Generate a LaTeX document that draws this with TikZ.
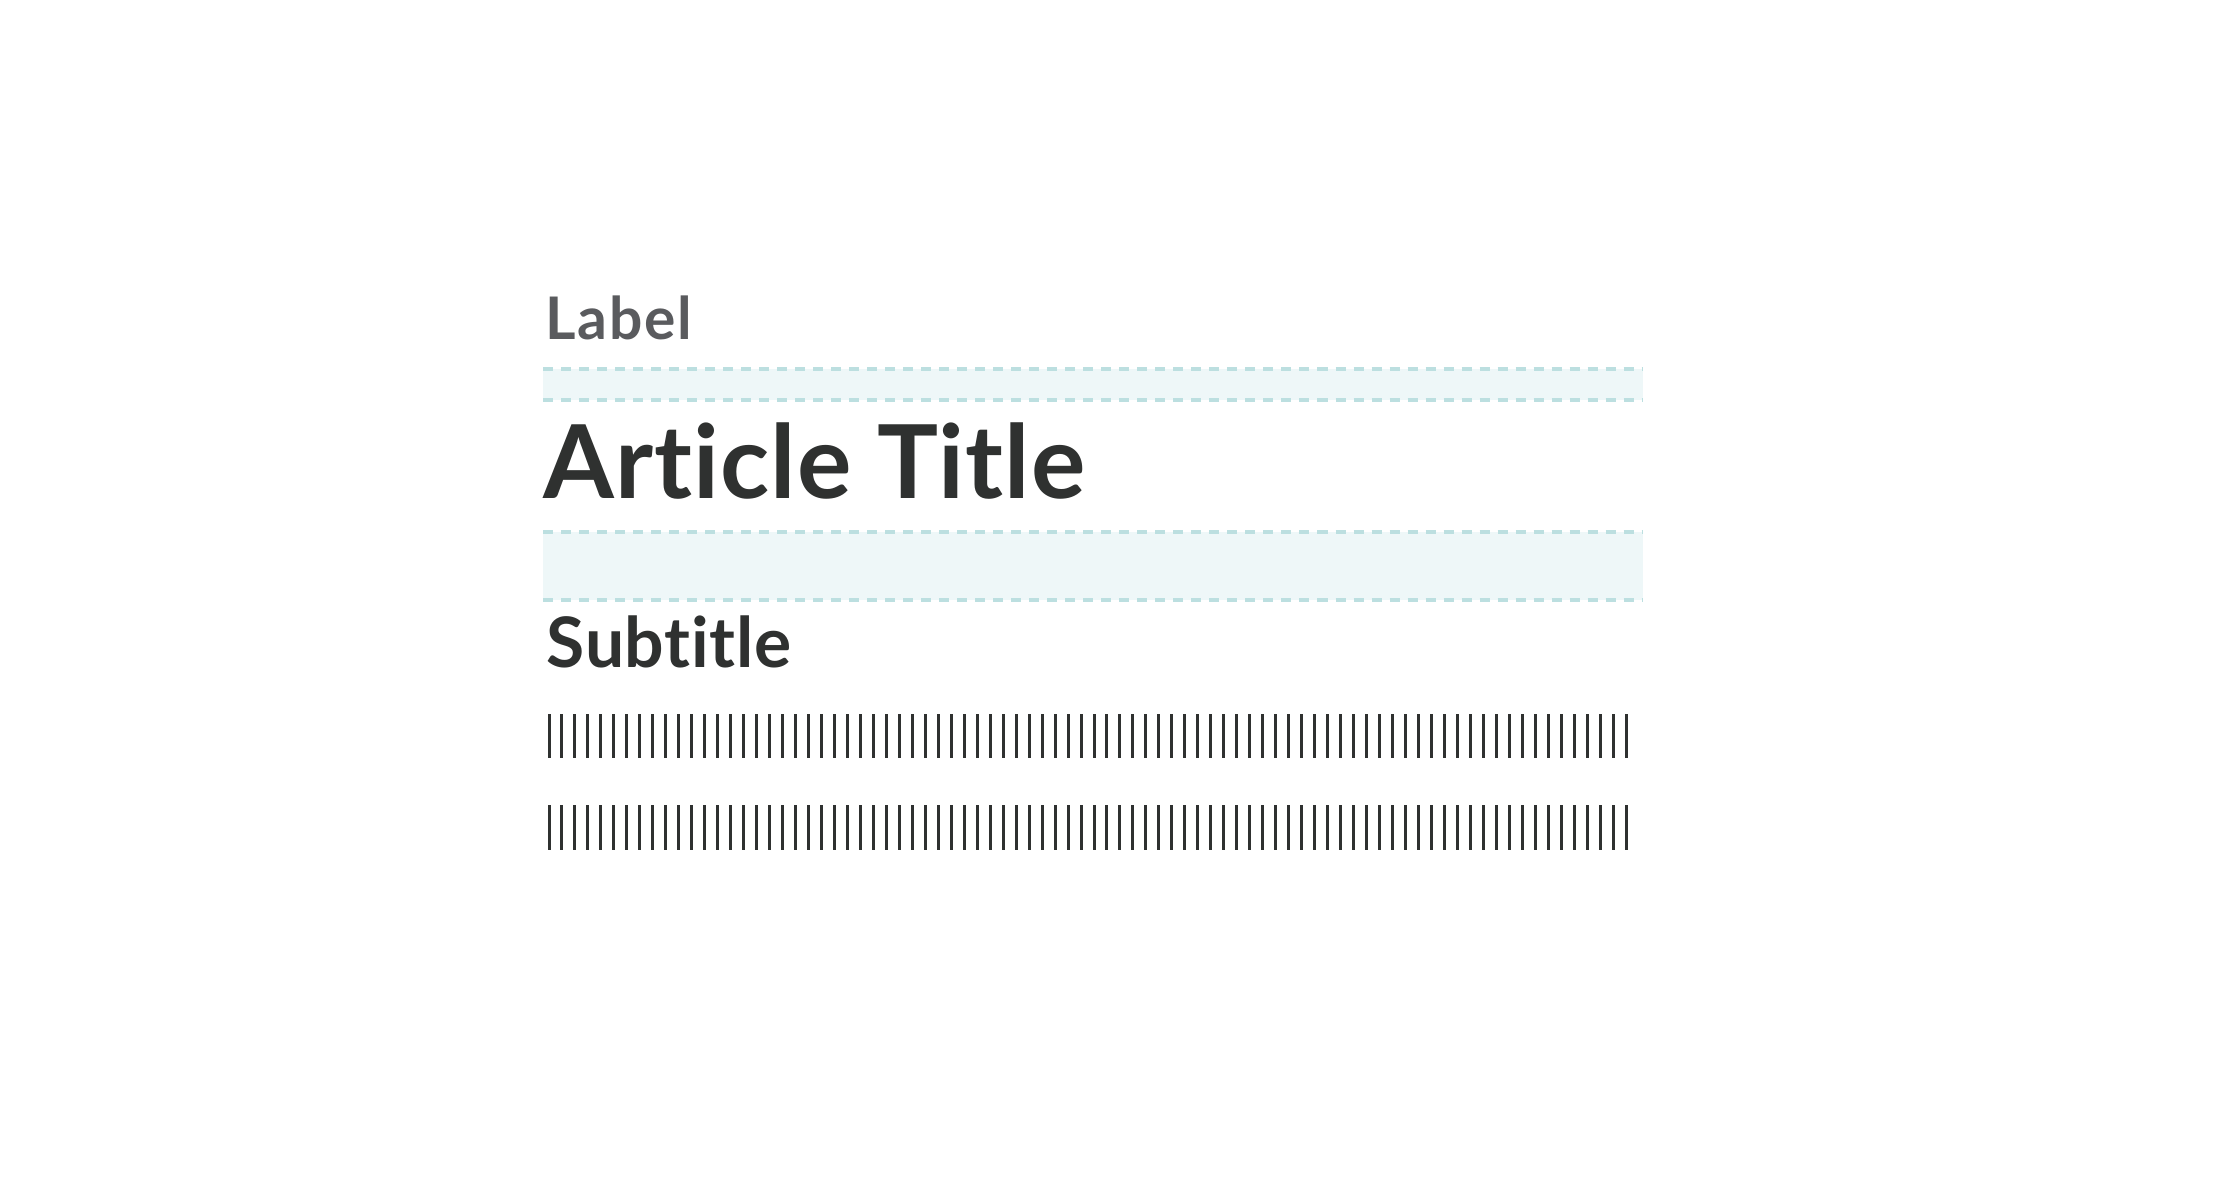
\documentclass[tikz,border=0pt]{standalone}
\usepackage{fontspec}
\setmainfont{Lato}[Ligatures=NoCommon]
\usepackage{tikz}

\definecolor{guideline}{HTML}{BCDFE0}
\definecolor{guidefill}{HTML}{EEF7F8}
\definecolor{labelgray}{HTML}{5A5B5E}
\definecolor{inkdark}{HTML}{2F3130}

\begin{document}
\begin{tikzpicture}[x=0.01cm,y=-0.01cm,
    guideband/.style={fill=guidefill},
    guidedash/.style={draw=guideline,line width=0.035cm,dash pattern=on 0.1cm off 0.08cm},
    textbar/.style={draw=inkdark,line width=0.03cm},
    heading/.style={anchor=base west,inner sep=0pt,text=inkdark}]
                \useasboundingbox [fill=white] (0,0) rectangle (2218,1178);
                % spacing bands
                \path [guideband] (543,369) rectangle (1643,400);
                \path [guideband] (543,532) rectangle (1643,600);
                \draw [guidedash] (543,369)--(1643,369);
                \draw [guidedash] (543,400)--(1643,400);
                \draw [guidedash] (543,532)--(1643,532);
                \draw [guidedash] (543,600)--(1643,600);
                % headings
                \node [heading,text=labelgray,font=\bfseries\addfontfeatures{LetterSpace=3}\fontsize{16.7}{20}\selectfont] (label) at (545,339) {Label};
                \node [heading,font=\bfseries\addfontfeatures{LetterSpace=1}\fontsize{29}{34}\selectfont] (title) at (543,498) {Article Title};
                \node [heading,font=\bfseries\addfontfeatures{LetterSpace=1}\fontsize{19.8}{24}\selectfont] (subtitle) at (546,667) {Subtitle};
                % body text lines
                \foreach \i in {0,...,83} {
                    \draw [textbar] (549+\i*12.976,714)--(549+\i*12.976,758);
                    \draw [textbar] (549+\i*12.976,805)--(549+\i*12.976,850);
                }
            \end{tikzpicture}
\end{document}
